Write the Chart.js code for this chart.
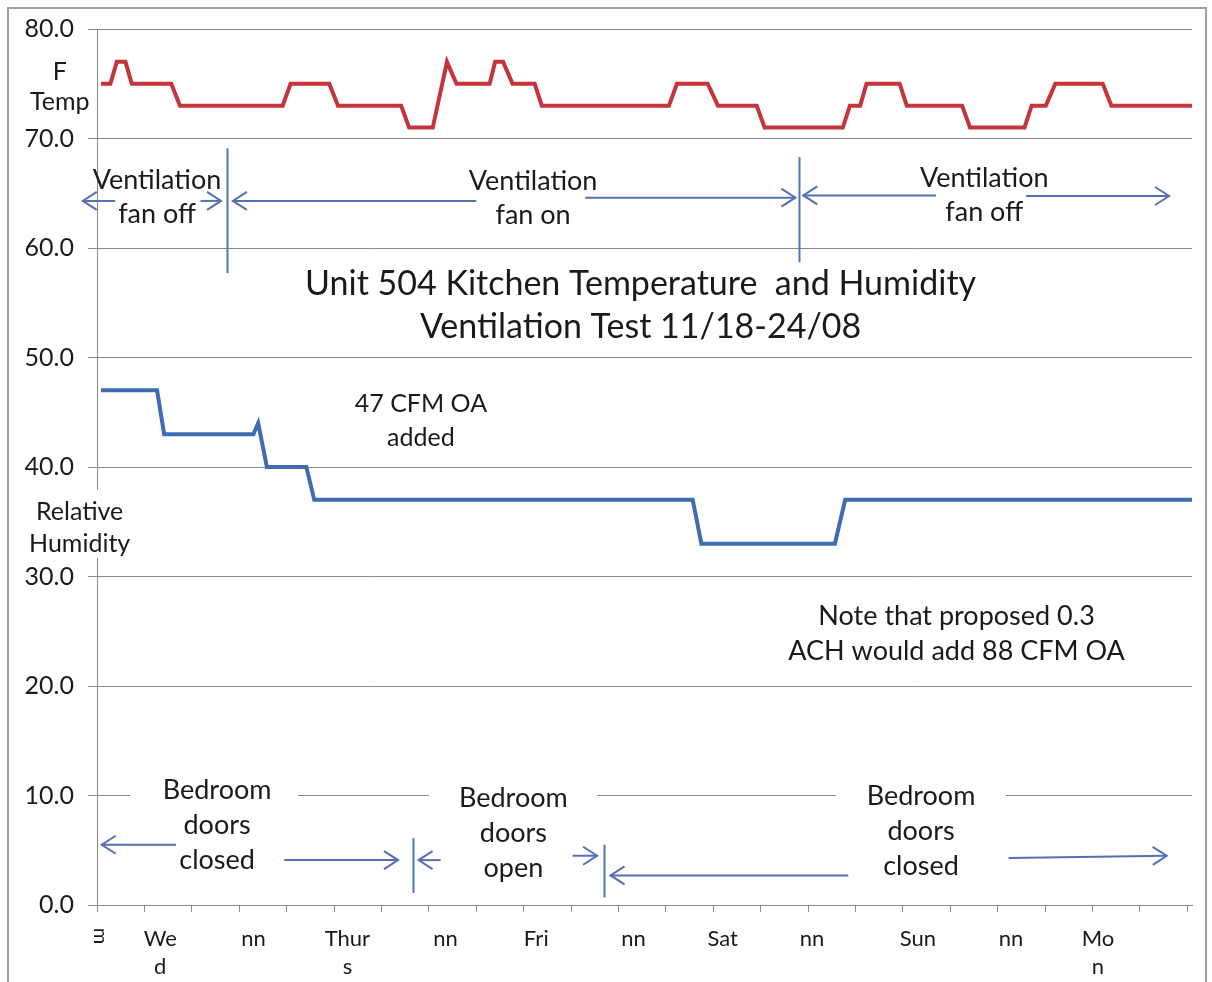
<!DOCTYPE html>
<html>
<head>
<meta charset="utf-8">
<script src="https://cdn.jsdelivr.net/npm/chart.js@4.4.1/dist/chart.umd.min.js"></script>
<style>
  html, body { margin: 0; padding: 0; background: #fff; }
  #wrap { width: 1212px; height: 982px; }
</style>
</head>
<body>
<div id="wrap"><canvas id="c" width="1212" height="982"></canvas></div>
<script>
// x = hours since the log started (Tue afternoon)
const tempHours  = [0.5, 1.7, 2.5, 3.6, 4.4, 9.4, 10.5, 23.5, 24.5, 29.4, 30.5, 38.5, 39.5, 42.5, 44.3, 45.5, 49.7, 50.4, 51.4, 52.6, 55.4, 56.3,
                    72.4, 73.4, 77.3, 78.6, 83.5, 84.5, 94.4, 95.3, 96.6, 97.4, 101.6, 102.5, 109.5, 110.5, 117.4, 118.3, 120.1, 121.3, 127.3, 128.4, 138.6];
const tempValues = [75, 75, 77, 77, 75, 75, 73, 73, 75, 75, 73, 73, 71, 71, 77, 75, 75, 77, 77, 75, 75, 73,
                    73, 75, 75, 73, 73, 71, 71, 73, 73, 75, 75, 73, 73, 71, 71, 73, 73, 75, 75, 73, 73];

const rhHours  = [0.5, 7.6, 8.5, 19.8, 20.4, 21.5, 26.5, 27.5, 75.4, 76.5, 93.4, 94.7, 138.6];
const rhValues = [47, 47, 43, 43, 44, 40, 40, 37, 37, 33, 33, 37, 37];

const yTicks = [0, 10, 20, 30, 40, 50, 60, 70, 80];

const xLabelHours = [8.0, 19.8, 31.7, 44.1, 55.6, 67.9, 79.2, 90.5, 103.9, 115.7, 126.7];
const xLabels = [['We', 'd'], ['nn'], ['Thur', 's'], ['nn'], ['Fri'], ['nn'], ['Sat'], ['nn'], ['Sun'], ['nn'], ['Mo', 'n']];

const FONT = "Lato, 'Open Sans', sans-serif";

// text notes: x in hours, y = value of the first line's centre, gap = px between lines
const notes = [
  { lines: ['F', 'Temp'], x: -4.7, y: 76.1, size: 25, gap: 30 },
  { lines: ['Ventilation', 'fan off'], x: 7.6, y: 66.2, size: 27, gap: 34 },
  { lines: ['Ventilation', 'fan on'], x: 55.2, y: 66.1, size: 27, gap: 34 },
  { lines: ['Ventilation', 'fan off'], x: 112.3, y: 66.4, size: 27, gap: 34 },
  { lines: ['Unit 504 Kitchen Temperature  and Humidity', 'Ventilation Test 11/18-24/08'], x: 68.8, y: 56.7, size: 34, gap: 43 },
  { lines: ['47 CFM OA', 'added'], x: 41.0, y: 45.8, size: 25, gap: 34 },
  { lines: ['Relative', 'Humidity'], x: -2.2, y: 35.9, size: 25, gap: 32, box: [14, 135] },
  { lines: ['Note that proposed 0.3', 'ACH would add 88 CFM OA'], x: 108.8, y: 26.4, size: 27, gap: 35 },
  { lines: ['Bedroom', 'doors', 'closed'], x: 15.2, y: 10.5, size: 27, gap: 35, box: [130, 298] },
  { lines: ['Bedroom', 'doors', 'open'], x: 52.7, y: 9.7, size: 27, gap: 35, box: [429, 597] },
  { lines: ['Bedroom', 'doors', 'closed'], x: 104.3, y: 9.9, size: 27, gap: 35, box: [836, 1006] }
];

// arrows: from (x1,y1) to head at (x2,y2)
const arrows = [
  [2.3, 64.3, -1.8, 64.3], [13.1, 64.3, 15.7, 64.3],
  [48.0, 64.3, 17.2, 64.3], [61.8, 64.6, 88.4, 64.6],
  [106.2, 64.8, 89.4, 64.8], [117.6, 64.75, 135.7, 64.75],
  [10.0, 5.5, 0.6, 5.5], [23.7, 4.1, 38.1, 4.1],
  [43.5, 4.1, 40.7, 4.1], [60.2, 4.5, 63.3, 4.5],
  [95.1, 2.7, 65.0, 2.7], [115.4, 4.3, 135.4, 4.5]
];

const markLines = [[16.5, 69.1, 57.7], [88.9, 68.3, 58.7], [40.0, 6.1, 1.1], [64.2, 5.5, 0.7]];

function drawArrow(ctx, x1, y1, x2, y2) {
  ctx.beginPath(); ctx.moveTo(x1, y1); ctx.lineTo(x2, y2); ctx.stroke();
  const a = Math.atan2(y2 - y1, x2 - x1), L = 14, W = 9;
  ctx.beginPath();
  ctx.moveTo(x2 - L * Math.cos(a) + W * Math.sin(a), y2 - L * Math.sin(a) - W * Math.cos(a));
  ctx.lineTo(x2, y2);
  ctx.lineTo(x2 - L * Math.cos(a) - W * Math.sin(a), y2 - L * Math.sin(a) + W * Math.cos(a));
  ctx.stroke();
}

const frame = {
  id: 'frame',
  beforeDraw(chart) {
    const ctx = chart.ctx;
    ctx.save();
    ctx.fillStyle = '#fff';
    ctx.fillRect(0, 0, chart.width, chart.height);
    ctx.strokeStyle = '#a0a0a0';
    ctx.lineWidth = 2;
    ctx.strokeRect(8, 8, 1198, 1000);
    ctx.restore();
  }
};

const notesPlugin = {
  id: 'notes',
  afterDraw(chart) {
    const ctx = chart.ctx, xs = chart.scales.x, ys = chart.scales.y;
    ctx.save();
    ctx.textAlign = 'center';
    ctx.textBaseline = 'middle';

    // x-axis labels
    ctx.fillStyle = '#1a1a1a';
    ctx.font = '22px ' + FONT;
    xLabels.forEach((lines, i) => {
      const px = xs.getPixelForValue(xLabelHours[i]);
      lines.forEach((t, j) => ctx.fillText(t, px, 939 + j * 28));
    });
    ctx.save();
    ctx.translate(xs.getPixelForValue(0.4), 936);
    ctx.rotate(Math.PI / 2);
    ctx.font = '20px ' + FONT;
    ctx.fillText('m', 0, 0);
    ctx.restore();

    // text notes
    notes.forEach(n => {
      const px = xs.getPixelForValue(n.x), py = ys.getPixelForValue(n.y);
      if (n.box) {
        ctx.fillStyle = '#fff';
        ctx.fillRect(n.box[0], py - n.gap / 2 - 6, n.box[1] - n.box[0], n.gap * n.lines.length + 4);
      }
      ctx.fillStyle = '#1a1a1a';
      ctx.font = n.size + 'px ' + FONT;
      n.lines.forEach((t, j) => ctx.fillText(t, px, py + j * n.gap));
    });

    // vertical markers
    ctx.strokeStyle = '#4a76b8';
    ctx.lineWidth = 2;
    markLines.forEach(([x, y1, y2]) => {
      const px = Math.round(xs.getPixelForValue(x)) + 0.5;
      ctx.beginPath();
      ctx.moveTo(px, ys.getPixelForValue(y1));
      ctx.lineTo(px, ys.getPixelForValue(y2));
      ctx.stroke();
    });

    // arrows
    ctx.strokeStyle = '#5570b0';
    ctx.lineWidth = 2;
    arrows.forEach(([x1, y1, x2, y2]) => drawArrow(ctx,
      xs.getPixelForValue(x1), ys.getPixelForValue(y1),
      xs.getPixelForValue(x2), ys.getPixelForValue(y2)));
    ctx.restore();
  }
};

new Chart(document.getElementById('c'), {
  type: 'line',
  data: {
    datasets: [
      { label: 'Temp', data: tempHours.map((h, i) => ({ x: h, y: tempValues[i] })), borderColor: '#c4343a', borderWidth: 4, pointRadius: 0, tension: 0, fill: false },
      { label: 'Relative Humidity', data: rhHours.map((h, i) => ({ x: h, y: rhValues[i] })), borderColor: '#3e6db4', borderWidth: 4, pointRadius: 0, tension: 0, fill: false }
    ]
  },
  options: {
    responsive: false,
    devicePixelRatio: 1,
    animation: false,
    layout: { padding: { top: 29, right: 20, left: 0, bottom: 0 } },
    plugins: { legend: { display: false }, tooltip: { enabled: false } },
    scales: {
      x: {
        type: 'linear', min: 0, max: 138.6,
        ticks: { stepSize: 6, display: false, includeBounds: false },
        grid: { drawOnChartArea: false, drawTicks: true, tickLength: 7, color: '#888' },
        border: { color: '#888' },
        afterFit: s => { s.height = 77; }
      },
      y: {
        min: yTicks[0], max: yTicks[yTicks.length - 1],
        afterBuildTicks: s => { s.ticks = yTicks.map(v => ({ value: v })); },
        ticks: { callback: v => v.toFixed(1), color: '#1a1a1a', font: { family: FONT, size: 25 }, padding: 14 },
        grid: { color: '#888', tickLength: 9 },
        border: { color: '#888' },
        afterFit: s => { s.width = 97; }
      }
    }
  },
  plugins: [frame, notesPlugin]
});
</script>
</body>
</html>
